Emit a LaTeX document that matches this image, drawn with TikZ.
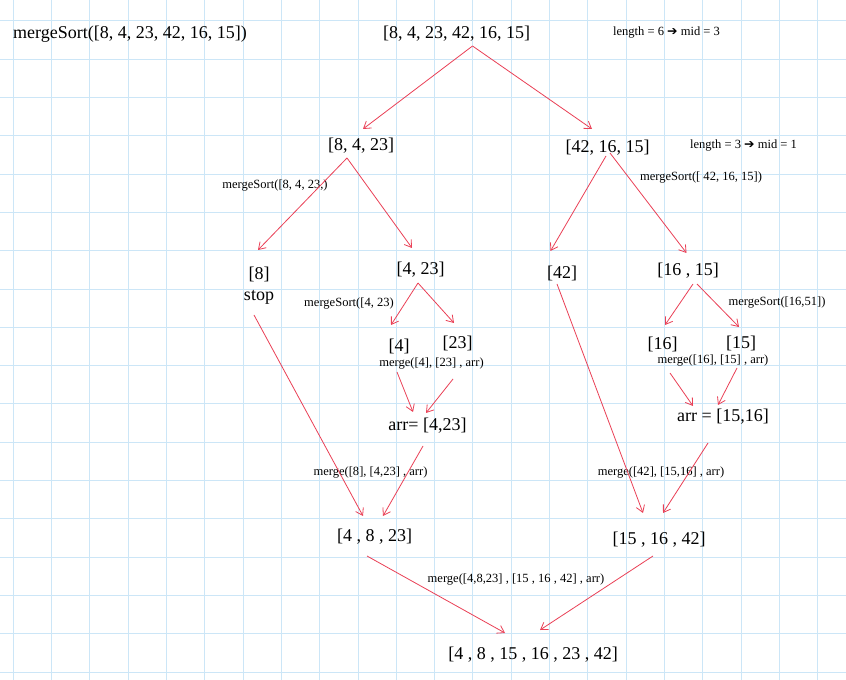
\documentclass[tikz,border=0pt]{standalone}
\usepackage{fontspec}
\setmainfont{Liberation Serif}
\newfontfamily\arrowfont{DejaVu Sans}
\usetikzlibrary{arrows.meta,calc}

\definecolor{gridblue}{RGB}{204,230,247}
\definecolor{edgered}{RGB}{234,64,86}

\newcommand{\bigtxt}{\fontsize{13.5pt}{15pt}\selectfont}
\newcommand{\smalltxt}{\fontsize{9.4pt}{11pt}\selectfont}

\begin{document}
\begin{tikzpicture}[x=0.75pt, y=-0.75pt, every node/.style={inner sep=0pt, outer sep=0pt, anchor=center, font=\bigtxt},
	note/.style={font=\smalltxt}, edge/.style={->, >={Straight Barb[length=5pt, width=6.5pt]}, draw=edgered, line width=0.6pt}]

	% Raster
	\fill[white] (0,0) rectangle (846,680);
	\useasboundingbox (0,0) rectangle (846,680);
	\foreach \i in {0,...,21} \draw[gridblue, line width=0.75pt] (13.3+38.3*\i, 0) -- (13.3+38.3*\i, 680);
	\foreach \j in {0,...,17} \draw[gridblue, line width=0.75pt] (0, 21+38.3*\j) -- (846, 21+38.3*\j);

	% Aufteilen
	\node (title) at (130, 34) {mergeSort([8, 4, 23, 42, 16, 15])};
	\node (root) at (456.5, 34) {[8, 4, 23, 42, 16, 15]};
	\node[note] (len6) at (666.5, 33) {length = 6 {\arrowfont ➔} mid = 3};
	\node (l) at (361, 146) {[8, 4, 23]};
	\node (r) at (607.5, 148) {[42, 16, 15]};
	\node[note] (len3) at (743.5, 146) {length = 3 {\arrowfont ➔} mid = 1};
	\node[note] (msl) at (275, 186) {mergeSort([8, 4, 23,)};
	\node[note] (msr) at (701, 178) {mergeSort([ 42, 16, 15])};
	\node (n8) at (259, 274) {[8]};
	\node (stop) at (259, 297) {stop};
	\node (n423) at (420.5, 270) {[4, 23]};
	\node (n42) at (562, 273) {[42]};
	\node (n1615) at (688, 271) {[16 , 15]};
	\node[note] (ms423) at (349, 304) {mergeSort([4, 23)};
	\node[note] (ms1651) at (777, 303) {mergeSort([16,51])};
	\node (n4) at (399, 346) {[4]};
	\node (n23) at (457.5, 343) {[23]};
	\node (n16) at (662.5, 344) {[16]};
	\node (n15) at (741, 343) {[15]};

	% Zusammenfuehren
	\node[note] (mg423) at (431.5, 364) {merge([4], [23] , arr)};
	\node[note] (mg1615) at (713, 361) {merge([16], [15] , arr)};
	\node (arr423) at (427.5, 426) {arr= [4,23]};
	\node (arr1516) at (723, 417) {arr = [15,16]};
	\node[note] (mg8) at (370.5, 473) {merge([8], [4,23] , arr)};
	\node[note] (mg42) at (661, 473) {merge([42], [15,16] , arr)};
	\node (s4823) at (374.5, 537) {[4 , 8 , 23]};
	\node (s151642) at (659, 540) {[15 , 16 , 42]};
	\node[note] (mgall) at (516, 580) {merge([4,8,23] , [15 , 16 , 42] , arr)};
	\node (final) at (533, 655) {[4 , 8 , 15 , 16 , 23 , 42]};

	\draw[edge] ($(root)+(16,12)$) -- ($(l)+(2,-17)$);
	\draw[edge] ($(root)+(16,12)$) -- ($(r)+(-15.5,-19)$);
	\draw[edge] ($(l)+(-14,12)$) -- ($(n8)+(-1,-24)$);
	\draw[edge] ($(l)+(-14,12)$) -- ($(n423)+(-8.5,-22)$);
	\draw[edge] ($(r)+(-1.5,8)$) -- ($(n42)+(-11.5,-22)$);
	\draw[edge] ($(r)+(2.5,5)$) -- ($(n1615)+(-1.5,-18)$);
	\draw[edge] ($(n423)+(-2.5,13)$) -- ($(n4)+(-8,-21)$);
	\draw[edge] ($(n423)+(-2.5,13)$) -- ($(n23)+(-3.5,-20)$);
	\draw[edge] ($(n1615)+(5,13)$) -- ($(n16)+(2.5,-19)$);
	\draw[edge] ($(n1615)+(9,13)$) -- ($(n15)+(-2,-16)$);
	\draw[edge] ($(n4)+(-2,26)$) -- ($(arr423)+(-14.5,-14)$);
	\draw[edge] ($(n23)+(-4.5,36)$) -- ($(arr423)+(-1.5,-13)$);
	\draw[edge] ($(n16)+(7.5,29)$) -- ($(arr1516)+(-30,-11)$);
	\draw[edge] ($(n15)+(-4,25)$) -- ($(arr1516)+(-5,-12)$);
	\draw[edge] ($(stop)+(-5,18)$) -- ($(s4823)+(-11.5,-21)$);
	\draw[edge] ($(arr423)+(-4.5,20)$) -- ($(s4823)+(8.5,-21)$);
	\draw[edge] ($(n42)+(-5,11)$) -- ($(s151642)+(-16,-27)$);
	\draw[edge] ($(arr1516)+(-15,26)$) -- ($(s151642)+(4,-27)$);
	\draw[edge] ($(s4823)+(-7.5,19)$) -- ($(final)+(-28,-22)$);
	\draw[edge] ($(s151642)+(-6,16)$) -- ($(final)+(7,-25)$);
\end{tikzpicture}
\end{document}
